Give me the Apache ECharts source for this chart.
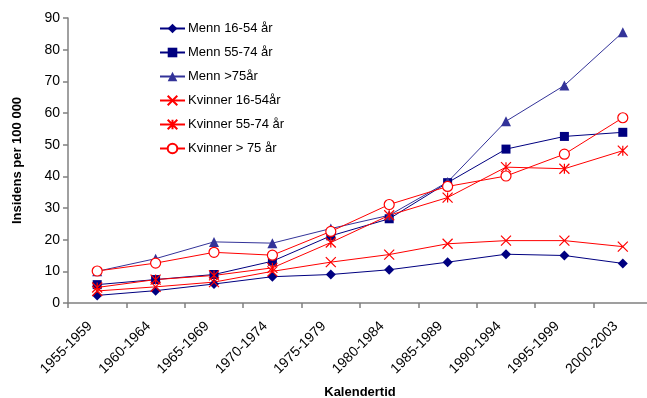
<!DOCTYPE html>
<html>
<head>
<meta charset="utf-8">
<script src="https://cdn.jsdelivr.net/npm/echarts@6/dist/echarts.min.js"></script>
<style>
  html, body { margin: 0; padding: 0; background: #fff; }
  #chart { width: 647px; height: 398px; }
</style>
</head>
<body>
<div id="chart"></div>
<script>
// Calendar periods on the x axis
const periods = ['1955-1959', '1960-1964', '1965-1969', '1970-1974', '1975-1979',
                 '1980-1984', '1985-1989', '1990-1994', '1995-1999', '2000-2003'];

// Incidence per 100 000 by sex and age group
const menn1654   = [2.4, 3.9, 6.0, 8.3, 9.0, 10.5, 12.9, 15.4, 15.0, 12.5];
const menn5574   = [5.8, 7.4, 9.0, 13.2, 21.2, 26.6, 38.0, 48.6, 52.6, 53.9];
const menn75     = [10.0, 14.0, 19.3, 18.9, 23.5, 27.7, 38.2, 57.4, 68.7, 85.5];
const kvinner1654 = [3.8, 5.1, 6.6, 10.0, 12.9, 15.3, 18.7, 19.7, 19.7, 17.8];
const kvinner5574 = [4.9, 7.4, 8.7, 11.1, 19.1, 27.7, 33.3, 42.9, 42.4, 48.1];
const kvinner75  = [10.1, 12.6, 16.0, 15.1, 22.6, 31.1, 36.8, 40.1, 47.0, 58.5];

const seriesNames = ['Menn 16-54 år', 'Menn 55-74 år', 'Menn >75år',
                     'Kvinner 16-54år', 'Kvinner 55-74 år', 'Kvinner > 75 år'];

const yTicks = [0, 10, 20, 30, 40, 50, 60, 70, 80, 90];

const NAVY = '#000080';
const BLUE = '#333399';
const RED = '#FF0000';
const FONT = 'Liberation Sans, Arial, sans-serif';

const crossPath = 'path://M0,0L10,10M10,0L0,10';
const starPath = 'path://M0,0L10,10M10,0L0,10M5,0L5,10';

function line(name, data, color, symbol, size, hollow, stroked) {
  return {
    name: name,
    type: 'line',
    data: data,
    symbol: symbol,
    symbolSize: size,
    showAllSymbol: true,
    lineStyle: { color: color, width: 1 },
    itemStyle: stroked
      ? { color: 'rgba(0,0,0,0)', borderColor: color, borderWidth: 1.2 }
      : hollow
        ? { color: '#fff', borderColor: color, borderWidth: 1.2 }
        : { color: color, borderColor: color, borderWidth: 0 },
    emphasis: { disabled: true },
    animation: false
  };
}

const chart = echarts.init(document.getElementById('chart'), null, { renderer: 'canvas' });

chart.setOption({
  backgroundColor: '#fff',
  textStyle: { fontFamily: FONT },
  grid: { left: 68, right: -5, top: 18, bottom: 95, containLabel: false, outerBoundsMode: 'none' },
  legend: {
    orient: 'vertical',
    left: 154,
    top: 17,
    itemWidth: 25,
    itemHeight: 12,
    itemGap: 11,
    textStyle: { fontSize: 13, color: '#000', fontFamily: FONT, padding: [0, 0, 0, -2] },
    data: seriesNames
  },
  xAxis: {
    type: 'category',
    data: periods,
    boundaryGap: true,
    name: 'Kalendertid',
    nameLocation: 'middle',
    nameGap: 83,
    nameTextStyle: { fontSize: 13, fontWeight: 'bold', color: '#000' },
    axisLine: { lineStyle: { color: '#808080', width: 1.5 } },
    axisTick: { show: true, alignWithLabel: false, length: 5, lineStyle: { color: '#808080', width: 1.5 } },
    axisLabel: { rotate: 45, fontSize: 14, color: '#000', margin: 14, padding: [0, 10, 0, 0], interval: 0 },
    splitLine: { show: false }
  },
  yAxis: {
    type: 'value',
    min: yTicks[0],
    max: yTicks[yTicks.length - 1],
    interval: 10,
    name: 'Insidens per 100 000',
    nameLocation: 'middle',
    nameGap: 44,
    nameRotate: 90,
    nameTextStyle: { fontSize: 13, fontWeight: 'bold', color: '#000' },
    axisLine: { show: true, lineStyle: { color: '#808080', width: 1.5 } },
    axisTick: { show: true, length: 5, lineStyle: { color: '#808080', width: 1.5 } },
    axisLabel: { fontSize: 14, color: '#000', margin: 8 },
    splitLine: { show: false }
  },
  series: [
    line(seriesNames[0], menn1654, NAVY, 'diamond', 10, false, false),
    line(seriesNames[1], menn5574, NAVY, 'rect', 9, false, false),
    line(seriesNames[2], menn75, BLUE, 'triangle', 10, false, false),
    line(seriesNames[3], kvinner1654, RED, crossPath, 10, false, true),
    line(seriesNames[4], kvinner5574, RED, starPath, 10, false, true),
    line(seriesNames[5], kvinner75, RED, 'circle', 10, true, false)
  ]
});
</script>
</body>
</html>
